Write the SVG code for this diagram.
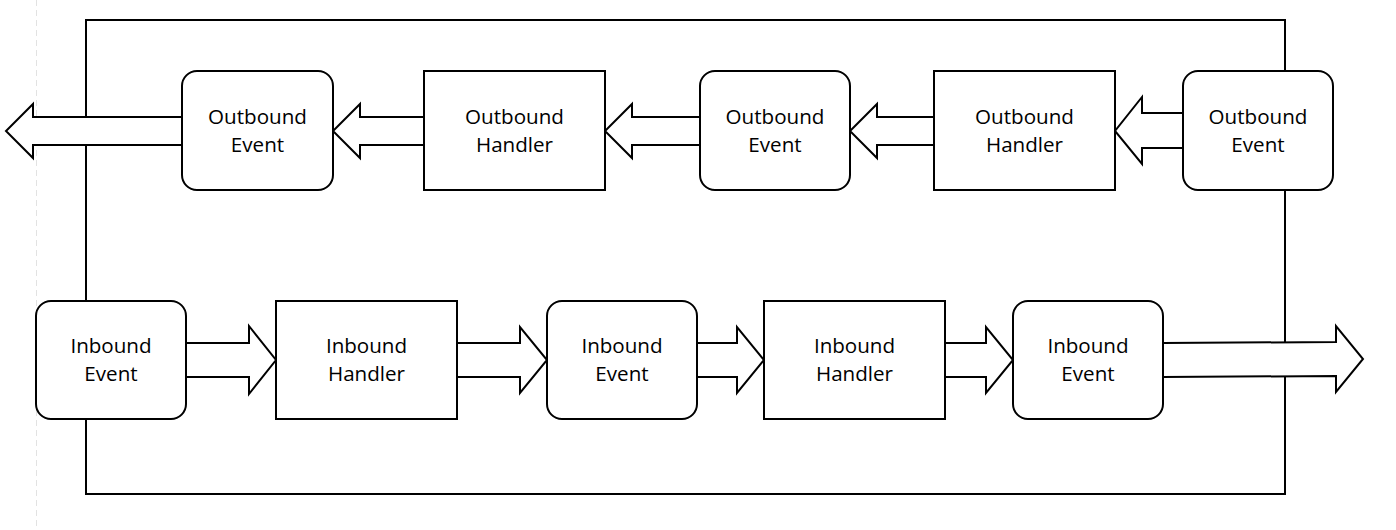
<svg xmlns="http://www.w3.org/2000/svg" width="1396" height="530" viewBox="0 0 1396 530">
<style>
.frame{fill:none;stroke:#000;stroke-width:2}
.ev{fill:#fff;stroke:#000;stroke-width:2}
.hd{fill:#fff;stroke:#000;stroke-width:2}
.arr{fill:#fff;stroke:#000;stroke-width:2;stroke-linejoin:miter}
.t{font-family:"Open Sans","Liberation Sans",sans-serif;font-size:20.6px;fill:#000;text-anchor:middle}
.guide{stroke:#e2e2e2;stroke-width:1;stroke-dasharray:6 4}
</style>
<rect width="1396" height="530" fill="#fff"/>
<line class="guide" x1="36.5" y1="0" x2="36.5" y2="530"/>
<g id="frame">
<rect class="frame" x="86" y="20" width="1199" height="474"/>
</g>
<g id="connectors">
<polygon class="arr" points="182,117 33,117 33,104 6,131 33,158 33,145 182,145"/>
<polygon class="arr" points="424,117 360,117 360,104 333,131 360,158 360,145 424,145"/>
<polygon class="arr" points="700,117 632,117 632,104 605,131 632,158 632,145 700,145"/>
<polygon class="arr" points="934,117 877,117 877,104 850,131 877,158 877,145 934,145"/>
<polygon class="arr" points="1183,113 1142,113 1142,97 1115,131 1142,164 1142,148 1183,148"/>
<polygon class="arr" points="186,343 249,343 249,326 276,360 249,394 249,377 186,377"/>
<polygon class="arr" points="457,343 520,343 520,327 547,360 520,393 520,377 457,377"/>
<polygon class="arr" points="697,343 737,343 737,327 764,360 737,393 737,377 697,377"/>
<polygon class="arr" points="945,343 986,343 986,327 1013,360 986,393 986,377 945,377"/>
<polygon class="arr" points="1163,343 1336,342 1336,326 1363,359 1336,392 1336,376 1163,377"/>
</g>
<g id="out-event-1">
<rect class="ev" x="182" y="71" width="151" height="119" rx="15"/>
<text class="t" x="257.5" y="124">Outbound</text>
<text class="t" x="257.5" y="152">Event</text>
</g>
<g id="out-handler-1">
<rect class="hd" x="424" y="71" width="181" height="119"/>
<text class="t" x="514.5" y="124">Outbound</text>
<text class="t" x="514.5" y="152">Handler</text>
</g>
<g id="out-event-2">
<rect class="ev" x="700" y="71" width="150" height="119" rx="15"/>
<text class="t" x="775" y="124">Outbound</text>
<text class="t" x="775" y="152">Event</text>
</g>
<g id="out-handler-2">
<rect class="hd" x="934" y="71" width="181" height="119"/>
<text class="t" x="1024.5" y="124">Outbound</text>
<text class="t" x="1024.5" y="152">Handler</text>
</g>
<g id="out-event-3">
<rect class="ev" x="1183" y="71" width="150" height="119" rx="15"/>
<text class="t" x="1258" y="124">Outbound</text>
<text class="t" x="1258" y="152">Event</text>
</g>
<g id="in-event-1">
<rect class="ev" x="36" y="301" width="150" height="118" rx="15"/>
<text class="t" x="111" y="353">Inbound</text>
<text class="t" x="111" y="381">Event</text>
</g>
<g id="in-handler-1">
<rect class="hd" x="276" y="301" width="181" height="118"/>
<text class="t" x="366.5" y="353">Inbound</text>
<text class="t" x="366.5" y="381">Handler</text>
</g>
<g id="in-event-2">
<rect class="ev" x="547" y="301" width="150" height="118" rx="15"/>
<text class="t" x="622" y="353">Inbound</text>
<text class="t" x="622" y="381">Event</text>
</g>
<g id="in-handler-2">
<rect class="hd" x="764" y="301" width="181" height="118"/>
<text class="t" x="854.5" y="353">Inbound</text>
<text class="t" x="854.5" y="381">Handler</text>
</g>
<g id="in-event-3">
<rect class="ev" x="1013" y="301" width="150" height="118" rx="15"/>
<text class="t" x="1088" y="353">Inbound</text>
<text class="t" x="1088" y="381">Event</text>
</g>
</svg>
